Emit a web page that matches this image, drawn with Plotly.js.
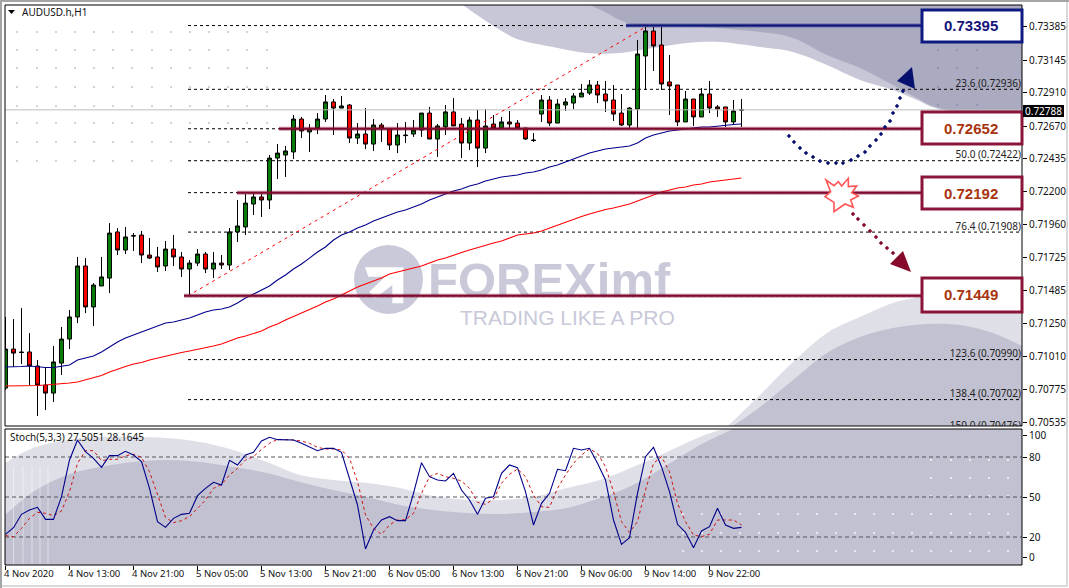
<!DOCTYPE html>
<html><head><meta charset="utf-8">
<script src="https://cdn.plot.ly/plotly-3.0.1.min.js"></script>
<style>html,body{margin:0;padding:0;background:#fff}#c{width:1069px;height:588px}</style>
</head><body><div id="c"></div>
<script>
// ---- candles (AUDUSD H1) ----
const opens=[0.70785,0.71066,0.71045,0.71045,0.70944,0.70807,0.70749,0.70965,0.71138,0.71297,
0.71664,0.71369,0.71520,0.71577,0.71909,0.71779,0.71883,0.71887,0.71743,0.71729,
0.71664,0.71786,0.71729,0.71642,0.71685,0.71750,0.71642,0.71685,0.71671,0.71909,
0.71945,0.72110,0.72161,0.72139,0.72441,0.72463,0.72485,0.72722,0.72629,0.72657,
0.72722,0.72845,0.72801,0.72823,0.72585,0.72614,0.72542,0.72679,0.72650,0.72535,
0.72607,0.72614,0.72643,0.72765,0.72578,0.72665,0.72773,0.72686,0.72549,0.72715,
0.72513,0.72686,0.72657,0.72701,0.72693,0.72657,0.72571,0.72758,0.72859,0.72693,
0.72823,0.72837,0.72881,0.72909,0.72967,0.72902,0.72859,0.72765,0.72679,0.72794,
0.73176,0.73356,0.73255,0.72989,0.72967,0.72701,0.72866,0.72737,0.72902,0.72809,
0.72809,0.72701,0.72787];
const highs=[0.71297,0.71282,0.71361,0.71181,0.70987,0.70937,0.71088,0.71225,0.71347,0.71729,
0.71721,0.71541,0.71729,0.71973,0.71937,0.71945,0.71901,0.71916,0.71865,0.71801,
0.71844,0.71887,0.71765,0.71707,0.71786,0.71765,0.71765,0.71743,0.71937,0.72139,
0.72182,0.72189,0.72182,0.72463,0.72542,0.72528,0.72751,0.72737,0.72686,0.72765,
0.72895,0.72866,0.72888,0.72830,0.72693,0.72801,0.72722,0.72693,0.72657,0.72693,
0.72701,0.72715,0.72765,0.72809,0.72686,0.72823,0.72873,0.72729,0.72737,0.72787,
0.72794,0.72751,0.72737,0.72780,0.72715,0.72657,0.72621,0.72895,0.72888,0.72866,
0.72873,0.72909,0.72974,0.73003,0.72996,0.72996,0.72967,0.72902,0.72809,0.73291,
0.73385,0.73385,0.73385,0.73183,0.72967,0.72924,0.72866,0.72945,0.72996,0.72823,
0.72809,0.72859,0.72866];
const lows=[0.70771,0.70937,0.70958,0.70807,0.70584,0.70627,0.70685,0.70879,0.71066,0.71253,
0.71325,0.71232,0.71520,0.71469,0.71743,0.71750,0.71772,0.71685,0.71714,0.71621,
0.71628,0.71664,0.71585,0.71455,0.71664,0.71613,0.71577,0.71642,0.71635,0.71837,
0.71887,0.72031,0.72017,0.72074,0.72290,0.72305,0.72434,0.72585,0.72485,0.72614,
0.72701,0.72607,0.72801,0.72549,0.72542,0.72506,0.72492,0.72557,0.72499,0.72477,
0.72549,0.72593,0.72593,0.72578,0.72449,0.72607,0.72672,0.72441,0.72499,0.72377,
0.72477,0.72643,0.72657,0.72657,0.72657,0.72571,0.72557,0.72701,0.72672,0.72693,
0.72780,0.72794,0.72881,0.72895,0.72837,0.72773,0.72708,0.72672,0.72657,0.72657,
0.72931,0.73068,0.72931,0.72751,0.72672,0.72701,0.72672,0.72737,0.72765,0.72737,
0.72665,0.72679,0.72665];
const closes=[0.71066,0.71037,0.71041,0.70944,0.70807,0.70749,0.70973,0.71138,0.71297,0.71664,
0.71369,0.71527,0.71585,0.71901,0.71779,0.71873,0.71880,0.71743,0.71721,0.71657,
0.71786,0.71729,0.71642,0.71685,0.71750,0.71642,0.71685,0.71671,0.71909,0.71952,
0.72117,0.72161,0.72139,0.72441,0.72477,0.72492,0.72722,0.72636,0.72650,0.72722,
0.72845,0.72801,0.72816,0.72585,0.72614,0.72542,0.72679,0.72657,0.72535,0.72607,
0.72603,0.72643,0.72765,0.72578,0.72672,0.72773,0.72672,0.72549,0.72715,0.72513,
0.72672,0.72657,0.72701,0.72686,0.72657,0.72578,0.72568,0.72859,0.72693,0.72830,
0.72845,0.72888,0.72909,0.72967,0.72895,0.72852,0.72758,0.72679,0.72801,0.73190,
0.73356,0.73248,0.72974,0.72960,0.72701,0.72866,0.72737,0.72902,0.72801,0.72794,
0.72701,0.72780,0.72788];
// ---- moving averages ----
const maBlue=[0.70937,0.70937,0.70940,0.70944,0.70937,0.70933,0.70933,0.70940,0.70951,0.70987,
0.71001,0.71016,0.71045,0.71081,0.71117,0.71145,0.71167,0.71189,0.71210,0.71232,
0.71253,0.71261,0.71275,0.71289,0.71311,0.71333,0.71347,0.71354,0.71369,0.71397,
0.71433,0.71462,0.71491,0.71520,0.71563,0.71599,0.71642,0.71678,0.71721,0.71765,
0.71801,0.71851,0.71887,0.71909,0.71937,0.71959,0.71988,0.72010,0.72031,0.72053,
0.72067,0.72089,0.72110,0.72139,0.72161,0.72182,0.72204,0.72218,0.72240,0.72254,
0.72276,0.72290,0.72305,0.72312,0.72319,0.72333,0.72341,0.72355,0.72377,0.72391,
0.72413,0.72434,0.72456,0.72477,0.72492,0.72506,0.72513,0.72521,0.72528,0.72549,
0.72585,0.72607,0.72621,0.72636,0.72643,0.72650,0.72657,0.72665,0.72665,0.72672,
0.72679,0.72683,0.72686];
const maRed=[0.70800,0.70800,0.70800,0.70804,0.70804,0.70807,0.70811,0.70814,0.70822,0.70829,
0.70843,0.70858,0.70876,0.70901,0.70922,0.70940,0.70958,0.70969,0.70987,0.71001,
0.71016,0.71030,0.71041,0.71052,0.71063,0.71074,0.71088,0.71102,0.71124,0.71145,
0.71160,0.71178,0.71196,0.71225,0.71246,0.71275,0.71300,0.71325,0.71347,0.71376,
0.71405,0.71426,0.71455,0.71484,0.71513,0.71534,0.71556,0.71577,0.71606,0.71621,
0.71635,0.71649,0.71664,0.71685,0.71707,0.71721,0.71743,0.71761,0.71779,0.71797,
0.71815,0.71829,0.71844,0.71865,0.71887,0.71894,0.71901,0.71916,0.71937,0.71959,
0.71981,0.72002,0.72020,0.72038,0.72056,0.72071,0.72081,0.72096,0.72110,0.72132,
0.72153,0.72175,0.72197,0.72211,0.72225,0.72233,0.72247,0.72254,0.72269,0.72276,
0.72283,0.72290,0.72297];
// ---- stochastic ----
const stochMain=[22,27,37,40.25,42.25,33.25,33.25,50.25,77.75,92.75,84,79,72.25,81,81,84.25,81.5,76.5,56.5,31.5,
27.25,34,37,37.75,51,56.5,61,59,77.5,74,81.5,83.5,92,94.75,93,93,92.75,90.25,87.5,84.75,
86.5,86.5,83.5,64,44,11,25.25,32.75,35.25,32.25,32.25,52.75,75.75,65.25,62.75,62,67.75,55.25,47.75,37,
49,50.25,67.75,74,72,54,29,45.25,52.75,70.75,69.75,86.5,85.25,86.5,75.25,62.75,32.75,14.5,19.5,52.75,
80.25,87.25,72.75,54,29.5,23.5,12,24.5,27.75,41.5,29,26.5,27.25];
const stochSignal=[21,20.25,26.5,34,38.5,37.75,36,39.5,54,75.25,84.75,84.75,77.25,78.25,78.25,81,82,79.75,69,51.5,
34.75,30.75,32.25,35.25,41.5,47.75,56.5,59.5,66.5,71.5,77.75,80.25,85.75,90.25,93.25,93.25,92.75,92,90.25,87.25,
86,86,85.25,79,61.5,36.5,26.5,22,29,32.75,33,37.75,52.75,65.25,67.75,65.25,64,62,56.5,46,
44.5,48.5,60.25,67,71,65.25,51.5,42.75,42.25,56.5,66.5,75.25,81.5,86,82.75,72.75,54,31.5,23.5,31.5,
55.25,75.25,80.25,69,45.25,31.5,21.5,20.25,22,32.75,32.75,32.75,29];
const stochLevels=[80,50,20];
// ---- levels and labels ----
const tradeLevels=[0.73395,0.72652,0.72192,0.71449];
const tradeLabels=['0.73395','0.72652','0.72192','0.71449'];
const fibPrices=[0.73395,0.72936,0.72652,0.72422,0.72192,0.71908,0.71449,0.70990,0.70702];
const fibLabelPrices=[0.72936,0.72422,0.71908,0.70990,0.70702,0.70476];
const fibLabels=['23.6 (0.72936)','50.0 (0.72422)','76.4 (0.71908)','123.6 (0.70990)','138.4 (0.70702)','150.0 (0.70476)'];
const lastPrice=0.72788;
const priceTicks=[0.73385,0.73145,0.72910,0.72670,0.72435,0.72200,0.71960,0.71725,0.71485,0.71250,0.71010,0.70775,0.70535];
const priceTickText=['0.73385','0.73145','0.72910','0.72670','0.72435','0.72200','0.71960','0.71725','0.71485','0.71250','0.71010','0.70775','0.70535'];
const timeTicks=[0,8,16,24,32,40,48,56,64,72,80,88];
const timeLabels=['4 Nov 2020','4 Nov 13:00','4 Nov 21:00','5 Nov 05:00','5 Nov 13:00','5 Nov 21:00','6 Nov 05:00','6 Nov 13:00','6 Nov 21:00','9 Nov 06:00','9 Nov 14:00','9 Nov 22:00'];
const stochTickText=['100','80','50','20','0'];

const FONT='"Noto Sans", sans-serif';
const idx=opens.map((_,i)=>i);
const PX=x=>(x-5)/1017, PY=y=>(565-y)/560;          // page pixel -> paper
const IX=x=>(x-5.5)/8;                              // page pixel -> bar index
const fmt=p=>PX(p[0]).toFixed(5)+' '+PY(p[1]).toFixed(5);
function poly(pts){return 'M'+pts.map(fmt).join(' L')+' Z';}
function smooth(pts){ // Catmull-Rom through points
  let d='M'+fmt(pts[0]);
  for(let i=0;i<pts.length-1;i++){
    const a=pts[Math.max(i-1,0)],b=pts[i],c=pts[i+1],e=pts[Math.min(i+2,pts.length-1)];
    d+=' C'+fmt([b[0]+(c[0]-a[0])/6,b[1]+(c[1]-a[1])/6])+' '+fmt([c[0]-(e[0]-b[0])/6,c[1]-(e[1]-b[1])/6])+' '+fmt(c);
  }
  return d;
}
const blob=(curve,tail)=>smooth(curve)+' L'+tail.map(fmt).join(' L')+' Z';
function dots(xs,ys,r){let d='';xs.forEach(x=>ys.forEach(y=>{d+=poly([[x-r,y],[x,y-r],[x+r,y],[x,y+r]])+' ';}));return d;}
function dotList(pts,r){return pts.map(p=>poly([[p[0]-r,p[1]],[p[0],p[1]-r],[p[0]+r,p[1]],[p[0],p[1]+r]])).join(' ');}
const sh=(path,fill,layer,line)=>({type:'path',xref:'paper',yref:'paper',path,fillcolor:fill,layer:layer||'below',line:line||{width:0}});
const rect=(x0,y0,x1,y1,fill,lc,lw,layer)=>({type:'rect',xref:'paper',yref:'paper',x0:PX(x0),x1:PX(x1),y0:PY(y0),y1:PY(y1),fillcolor:fill,layer:layer||'above',line:{color:lc,width:lw}});
const box=(x0,y0,x1,y1,c)=>[rect(x0-1.5,y0-1.5,x1+1.5,y1+1.5,c,c,0),rect(x0+1.5,y0+1.5,x1-1.5,y1-1.5,'#ffffff','#fff',0)];

const L1='#dfdfe8',D1='#c1c1d1',L2='#c7c7d7',D2='#aaaac0';
const shapes=[
 // main panel top swoosh
 sh(blob([[463,5],[480,17],[500,30],[520,40],[553,47],[587,53],[620,53],[653,48],[687,43],[720,42],[760,47],[793,52],[827,65],[860,80],[893,90],[917,100],[943,110],[1022,125]],[[1022,5]]),L2),
 sh(blob([[590,5],[605,12],[620,20],[640,25],[700,27],[760,32],[793,38],[827,55],[860,68],[893,85],[917,98],[943,109],[1022,124]],[[1022,5]]),D2),
 // main panel bottom swoosh
 sh(blob([[728,426],[760,395],[793,362],[827,333],[860,317],[893,303],[920,297],[960,291],[1000,298],[1022,310]],[[1022,426]]),L1),
 sh(blob([[733,426],[760,407],[793,380],[827,353],[860,337],[893,328],[927,324],[960,325],[993,333],[1022,346]],[[1022,426]]),D1),
 // stochastic panel
 sh(blob([[5,463],[33,448],[67,440],[100,437],[133,437],[167,438],[200,442],[233,450],[267,462],[300,475],[333,480],[367,483],[400,488],[433,496],[467,500],[500,500],[533,497],[567,488],[600,480],[633,467],[667,452],[700,437],[723,429]],[[1022,429],[1022,565],[5,565]]),L1),
 sh(blob([[5,515],[33,492],[67,475],[100,467],[133,462],[167,460],[200,462],[233,467],[267,473],[300,482],[333,490],[367,497],[400,505],[433,510],[467,513],[500,514],[533,512],[567,508],[600,498],[633,485],[667,465],[700,445],[733,429]],[[1022,429],[1022,565],[5,565]]),D1),
 // watermark dots
 sh(dots([17,37,56,75,94,113,132,152,171,190,209,228,247,267],[32,50,68,87,106,123,142,161],1.3),'#c4c4d6'),
 sh(dots([938,957,977],[50,68,87,105],1.3),'#8f8fa8'),
 sh(dots([683,702,721,740,759,778,798,817,836,855,874,893,912,931,951,970,989,1008],[514,533,551],1.3),'#f4f4f8'),
 sh(dots([931,951,970,989,1008],[460,478,496],1.3),'#f4f4f8'),
 // logo
 {type:'circle',xref:'paper',yref:'paper',x0:PX(354),x1:PX(423),y0:PY(314),y1:PY(245),fillcolor:'#c9c9d9',layer:'below',line:{width:0}},
 sh(poly([[75,97],[190,97],[190,205],[157,205],[157,150],[105,190],[88,170],[135,125],[85,125]].map(p=>[340+p[0]/3,235+p[1]/3])),'#ffffff'),
 // white streaks in stochastic panel
 ...[13.5,23,32,40,48].map(x=>({type:'line',xref:'paper',yref:'paper',x0:PX(x),x1:PX(x),y0:PY(466),y1:PY(565),layer:'below',line:{color:'rgba(255,255,255,0.45)',width:1}})),
 // stochastic levels
 ...stochLevels.map(v=>({type:'line',xref:'paper',yref:'y2',x0:0,x1:1,y0:v,y1:v,layer:'below',line:{color:'#55555f',width:1,dash:'4px,3px'}})),
 // frames
 rect(5,5,1022,426,'rgba(0,0,0,0)','#000',1),
 rect(5,429,1022,565,'rgba(0,0,0,0)','#000',1),
 rect(1,1,1067,586,'rgba(0,0,0,0)','#d9d9d9',2),
 {type:'line',xref:'paper',yref:'paper',x0:PX(0),x1:PX(1069),y0:PY(1),y1:PY(1),layer:'above',line:{color:'#a5a5a5',width:2}},
 {type:'line',xref:'paper',yref:'paper',x0:PX(1),x1:PX(1),y0:PY(0),y1:PY(588),layer:'above',line:{color:'#a5a5a5',width:2}},
 // title triangle
 sh(poly([[8,10],[15,10],[11.5,14]]),'#000','above'),
 // value boxes
 ...box(922,10,1022,42,'#0f1a80'),
 ...box(922,112,1022,144,'#8a1538'),
 ...box(922,177,1022,209,'#8a1538'),
 ...box(922,278,1022,312,'#8a1538'),
 // last-price tag
 rect(1023,105,1064,117,'#000','#000',0),
 // scenario arrows
 sh(dotList([[789,136],[794,142],[800,148],[806,153],[813,157],[820,161],[828,163],[836,163],[843,163],[851,160],[858,156],[865,152],[870,146],[876,140],[881,134],[885,127],[890,121],[893,113],[897,106],[900,98],[903,91]],2.2),'#06106e','above'),
 sh(poly([[912,67],[897,81],[915,89]]),'#06106e','above'),
 sh(dotList([[853,214],[858,219],[864,225],[870,231],[876,237],[881,243],[887,248],[893,253]],2.2),'#850a2c','above'),
 sh(poly([[903,251],[890,264],[911,272]]),'#850a2c','above'),
 sh(poly([[198,180],[222,197],[235,185],[245,198],[265,175],[265,200],[290,198],[275,218],[295,228],[272,240],[280,262],[255,252],[222,275],[222,247],[195,230],[212,215]].map(p=>[760+p[0]/3,120+p[1]/3])),'#ffffff','above',{color:'#ff5555',width:1.6})
];

const ann=(x,y,text,o)=>Object.assign({xref:'paper',yref:'paper',x:PX(x),y:PY(y),text,showarrow:false,xanchor:'left',yanchor:'middle',font:{family:FONT,size:10,color:'#111'}},o||{});
const boxY=[26,128,193,295];
const annotations=[
 ann(19.5,12,'AUDUSD.h,H1'),
 ann(7.5,437,'Stoch(5,3,3) 27.5051 28.1645'),
 ann(1043.5,111,lastPrice.toFixed(5),{xanchor:'center',font:{family:FONT,size:10,color:'#fff'}}),
 ...tradeLabels.map((t,i)=>ann(971,boxY[i],'<b>'+t+'</b>',{xanchor:'center',font:{family:'"Liberation Sans",Arial,sans-serif',size:15,color:i===0?'#14147a':'#a8330e'}}))
];

const levelStart=[626,279,237,184].map(IX);
const levelEnd=IX(921);
const data=[
 {type:'scatter',mode:'text',x:[IX(428)],y:[0.73579-285*0.000072],text:['<b>FOREXimf</b>'],textposition:'middle right',textfont:{family:'"Liberation Sans",Arial,sans-serif',size:49,color:'#c9c9d9'},xaxis:'x',yaxis:'y',hoverinfo:'skip'},
 {type:'scatter',mode:'text',x:[IX(460)],y:[0.73579-320*0.000072],text:['TRADING LIKE A PRO'],textposition:'middle right',textfont:{family:'"Liberation Sans",Arial,sans-serif',size:21,color:'#c9c9d9'},xaxis:'x',yaxis:'y',hoverinfo:'skip'},
 {type:'scatter',mode:'lines',x:[-1,128],y:[lastPrice,lastPrice],line:{color:'#bdbdbd',width:1},xaxis:'x',yaxis:'y',hoverinfo:'skip'},
 {type:'candlestick',x:idx,open:opens,high:highs,low:lows,close:closes,xaxis:'x',yaxis:'y',width:0.66,whiskerwidth:0,
  increasing:{line:{color:'#000',width:1},fillcolor:'#0a7d0a'},decreasing:{line:{color:'#000',width:1},fillcolor:'#ff0000'},hoverinfo:'skip'},
 ...fibPrices.map(p=>({type:'scatter',mode:'lines',x:[IX(188),128],y:[p,p],line:{color:'#000',width:1,dash:'3px,3px'},xaxis:'x',yaxis:'y',hoverinfo:'skip'})),
 {type:'scatter',mode:'text',x:fibLabelPrices.map(()=>IX(1021)),y:fibLabelPrices,text:fibLabels,textposition:'top left',textfont:{family:FONT,size:10,color:'#222'},xaxis:'x',yaxis:'y',hoverinfo:'skip'},
 {type:'scatter',mode:'lines',x:[IX(188),IX(648)],y:[0.71449,0.73395],line:{color:'#ff0000',width:1,dash:'3px,4px'},xaxis:'x',yaxis:'y',hoverinfo:'skip'},
 {type:'scatter',mode:'lines',x:idx,y:maBlue,line:{color:'#00008b',width:1.1},xaxis:'x',yaxis:'y',hoverinfo:'skip'},
 {type:'scatter',mode:'lines',x:idx,y:maRed,line:{color:'#ff0000',width:1.1},xaxis:'x',yaxis:'y',hoverinfo:'skip'},
 ...tradeLevels.map((p,i)=>({type:'scatter',mode:'lines',x:[levelStart[i],levelEnd],y:[p,p],line:{color:i===0?'rgba(20,30,130,0.45)':'rgba(140,20,60,0.45)',width:4},xaxis:'x',yaxis:'y',hoverinfo:'skip'})),
 ...tradeLevels.map((p,i)=>({type:'scatter',mode:'lines',x:[levelStart[i],levelEnd],y:[p,p],line:{color:i===0?'#0c1478':'#7f0a2e',width:2},xaxis:'x',yaxis:'y',hoverinfo:'skip'})),
 {type:'scatter',mode:'lines',x:idx,y:stochSignal,line:{color:'#d01010',width:1,dash:'3px,3px'},xaxis:'x',yaxis:'y2',hoverinfo:'skip'},
 {type:'scatter',mode:'lines',x:idx,y:stochMain,line:{color:'#00008b',width:1.1},xaxis:'x',yaxis:'y2',hoverinfo:'skip'}
];
const layout={
 width:1069,height:588,showlegend:false,hovermode:false,dragmode:false,
 paper_bgcolor:'#fff',plot_bgcolor:'rgba(0,0,0,0)',
 margin:{l:5,r:47,t:5,b:23,pad:0,autoexpand:false},
 font:{family:FONT,size:10,color:'#111'},
 xaxis:{range:[IX(5),IX(1022)],tickmode:'array',tickvals:timeTicks,ticktext:timeLabels,ticks:'outside',ticklen:4,tickcolor:'#000',
  ticklabelposition:'outside right',ticklabelshift:-2,showgrid:false,zeroline:false,showline:false,rangeslider:{visible:false},anchor:'y2',tickfont:{family:FONT,size:9.5,color:'#111'},tickangle:0,automargin:false,fixedrange:true},
 yaxis:{domain:[(565-426)/560,1],range:[0.70512,0.73543],side:'right',anchor:'x',tickmode:'array',tickvals:priceTicks,ticktext:priceTickText,ticks:'outside',ticklen:4,tickcolor:'#000',
  showgrid:false,zeroline:false,showline:false,tickfont:{family:FONT,size:10,color:'#111'},automargin:false,fixedrange:true},
 yaxis2:{domain:[0,(565-429)/560],range:[-1,101],side:'right',anchor:'x',tickmode:'array',tickvals:[95.8,80,50,20,4.3],ticktext:stochTickText,ticks:'outside',ticklen:4,tickcolor:'#000',
  showgrid:false,zeroline:false,showline:false,tickfont:{family:FONT,size:10,color:'#111'},automargin:false,fixedrange:true},
 shapes,annotations
};
Plotly.newPlot('c',data,layout,{staticPlot:true,displayModeBar:false});
</script></body></html>
